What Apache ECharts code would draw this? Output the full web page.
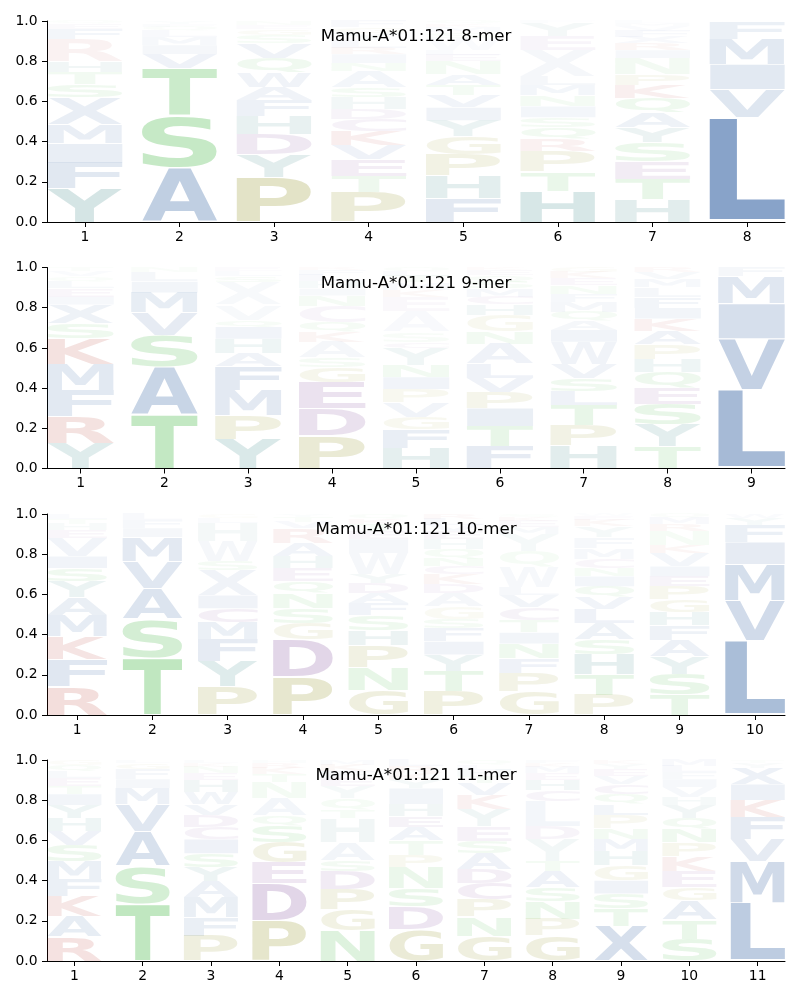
<!DOCTYPE html>
<html>
<head>
<meta charset="utf-8">
<script src="https://cdn.jsdelivr.net/npm/echarts@6/dist/echarts.min.js"></script>
<style>html,body{margin:0;padding:0;background:#fff}#chart{width:800px;height:1000px}</style>
</head>
<body>
<div id="chart"></div>
<script>
// ---------------- data ----------------
const titles = ['Mamu-A*01:121 8-mer', 'Mamu-A*01:121 9-mer', 'Mamu-A*01:121 10-mer', 'Mamu-A*01:121 11-mer'];
const yTicks = [0, 0.2, 0.4, 0.6, 0.8, 1.0];

// each position: stack of [letter, frequency] from bottom to top
const mer8 = [
  [['Y',0.165],['F',0.13],['I',0.095],['M',0.095],['X',0.135],['S',0.065],['T',0.06],['H',0.055],['R',0.11],['F',0.05],['E',0.025],['Q',0.015]],
  [['A',0.27],['S',0.26],['T',0.235],['V',0.07],['I',0.045],['M',0.04],['L',0.03],['Q',0.02],['F',0.015],['Y',0.015]],
  [['P',0.22],['Y',0.115],['D',0.10],['H',0.09],['F',0.08],['A',0.065],['W',0.075],['Q',0.07],['V',0.075],['S',0.04],['G',0.03],['E',0.02],['N',0.02]],
  [['P',0.15],['T',0.08],['E',0.08],['V',0.07],['K',0.07],['C',0.06],['D',0.05],['H',0.06],['S',0.05],['A',0.08],['N',0.04],['I',0.045],['R',0.03],['L',0.04],['Y',0.035],['G',0.03],['F',0.03]],
  [['F',0.12],['H',0.11],['P',0.105],['G',0.09],['Y',0.08],['I',0.065],['V',0.06],['T',0.05],['A',0.055],['N',0.065],['E',0.03],['L',0.025],['W',0.06],['S',0.03],['M',0.025],['K',0.015],['Q',0.015]],
  [['H',0.155],['T',0.095],['P',0.10],['R',0.06],['Q',0.06],['S',0.05],['I',0.055],['N',0.055],['M',0.05],['L',0.045],['X',0.13],['E',0.07],['Y',0.065],['F',0.01]],
  [['H',0.115],['T',0.10],['E',0.085],['S',0.095],['Y',0.075],['A',0.075],['Q',0.07],['K',0.065],['P',0.055],['N',0.08],['I',0.04],['R',0.035],['X',0.03],['F',0.03],['V',0.025],['M',0.015],['L',0.01]],
  [['S',0.008],['L',0.512],['V',0.14],['I',0.125],['M',0.125],['F',0.085],['W',0.005]]
];
const mer9 = [
  [['Y',0.125],['R',0.135],['F',0.13],['M',0.13],['K',0.125],['S',0.075],['X',0.095],['I',0.04],['E',0.04],['L',0.035],['Q',0.025],['V',0.025],['T',0.02]],
  [['T',0.27],['A',0.235],['S',0.16],['V',0.11],['M',0.10],['I',0.055],['L',0.045],['N',0.025]],
  [['Y',0.145],['P',0.12],['M',0.125],['F',0.12],['A',0.065],['H',0.07],['I',0.06],['Q',0.035],['V',0.075],['X',0.11],['S',0.03],['L',0.025],['E',0.02]],
  [['P',0.165],['D',0.135],['E',0.13],['G',0.075],['S',0.045],['A',0.08],['K',0.05],['Q',0.045],['C',0.085],['N',0.05],['I',0.035],['H',0.035],['L',0.03],['F',0.025],['R',0.015]],
  [['H',0.10],['F',0.095],['G',0.06],['V',0.075],['P',0.065],['I',0.06],['N',0.06],['Y',0.085],['C',0.03],['S',0.05],['A',0.10],['E',0.075],['K',0.035],['M',0.035],['T',0.03],['L',0.025],['Q',0.02]],
  [['F',0.11],['T',0.10],['I',0.09],['P',0.08],['V',0.07],['L',0.07],['A',0.10],['N',0.06],['G',0.085],['H',0.05],['C',0.04],['M',0.04],['S',0.035],['Q',0.03],['E',0.025],['K',0.015]],
  [['H',0.115],['P',0.10],['T',0.10],['L',0.07],['S',0.065],['V',0.07],['W',0.11],['I',0.06],['A',0.045],['Q',0.045],['M',0.05],['F',0.04],['N',0.04],['E',0.035],['K',0.03],['G',0.025]],
  [['T',0.11],['Y',0.11],['S',0.10],['E',0.08],['Q',0.08],['H',0.065],['P',0.075],['A',0.065],['K',0.06],['I',0.055],['F',0.055],['L',0.045],['M',0.04],['V',0.035],['R',0.025]],
  [['S',0.005],['L',0.385],['V',0.255],['I',0.175],['M',0.135],['F',0.045]]
];
const mer10 = [
  [['R',0.14],['F',0.135],['K',0.115],['M',0.105],['A',0.09],['Y',0.08],['S',0.065],['I',0.06],['V',0.09],['E',0.04],['H',0.03],['T',0.025],['L',0.025]],
  [['T',0.285],['S',0.195],['A',0.15],['V',0.135],['M',0.12],['I',0.045],['F',0.04],['L',0.03]],
  [['P',0.14],['Y',0.125],['F',0.11],['M',0.085],['C',0.07],['I',0.065],['X',0.125],['S',0.045],['W',0.10],['H',0.09],['L',0.025],['G',0.02]],
  [['P',0.19],['D',0.185],['G',0.08],['S',0.075],['N',0.075],['Q',0.06],['E',0.065],['H',0.06],['A',0.065],['R',0.075],['V',0.03],['T',0.025],['Y',0.015]],
  [['G',0.125],['N',0.11],['P',0.11],['H',0.075],['S',0.075],['F',0.06],['A',0.05],['D',0.05],['Y',0.045],['W',0.105],['I',0.07],['E',0.04],['T',0.035],['K',0.025],['Q',0.025]],
  [['P',0.12],['T',0.10],['Y',0.08],['I',0.065],['F',0.065],['S',0.045],['G',0.065],['A',0.065],['D',0.045],['K',0.05],['C',0.04],['N',0.04],['Q',0.045],['H',0.05],['E',0.04],['V',0.03],['L',0.03],['R',0.025]],
  [['G',0.115],['P',0.095],['F',0.07],['N',0.075],['I',0.055],['T',0.06],['C',0.065],['V',0.06],['L',0.04],['W',0.10],['Q',0.08],['Y',0.085],['M',0.035],['E',0.03],['K',0.02],['S',0.015]],
  [['P',0.10],['T',0.10],['H',0.10],['S',0.075],['A',0.08],['L',0.07],['V',0.06],['Q',0.055],['I',0.05],['N',0.04],['C',0.045],['M',0.055],['F',0.055],['Y',0.055],['K',0.03],['E',0.02],['W',0.01]],
  [['T',0.10],['S',0.105],['Y',0.085],['A',0.08],['F',0.075],['H',0.065],['G',0.065],['P',0.065],['E',0.05],['I',0.05],['V',0.065],['K',0.04],['N',0.07],['R',0.035],['M',0.03],['Q',0.02]],
  [['S',0.005],['L',0.365],['V',0.20],['M',0.18],['I',0.11],['F',0.085],['Y',0.035],['W',0.02]]
];
const mer11 = [
  [['R',0.12],['A',0.10],['K',0.10],['F',0.085],['M',0.09],['S',0.08],['V',0.07],['H',0.065],['Y',0.065],['I',0.055],['T',0.04],['E',0.04],['L',0.035],['Q',0.03],['G',0.025]],
  [['T',0.285],['S',0.19],['A',0.17],['V',0.135],['M',0.08],['I',0.045],['F',0.05],['G',0.03],['L',0.015]],
  [['P',0.125],['F',0.09],['M',0.10],['A',0.08],['Y',0.07],['S',0.07],['I',0.07],['C',0.06],['D',0.06],['V',0.055],['W',0.06],['H',0.06],['E',0.035],['N',0.03],['K',0.02],['L',0.015]],
  [['P',0.20],['D',0.185],['E',0.105],['G',0.10],['S',0.085],['Q',0.05],['A',0.085],['N',0.08],['T',0.04],['K',0.03],['R',0.025],['H',0.015]],
  [['N',0.15],['G',0.105],['P',0.10],['D',0.09],['S',0.055],['A',0.09],['H',0.12],['T',0.04],['Q',0.06],['Y',0.06],['E',0.04],['F',0.035],['K',0.03],['M',0.025]],
  [['G',0.155],['D',0.115],['S',0.09],['N',0.105],['P',0.06],['T',0.075],['A',0.065],['E',0.055],['H',0.06],['I',0.08],['Y',0.04],['K',0.035],['R',0.035],['L',0.03]],
  [['G',0.125],['N',0.095],['P',0.085],['C',0.08],['D',0.07],['A',0.08],['S',0.06],['E',0.075],['Y',0.085],['K',0.07],['V',0.06],['T',0.035],['H',0.03],['L',0.025],['Q',0.025]],
  [['G',0.125],['P',0.085],['N',0.085],['S',0.07],['A',0.08],['T',0.05],['Y',0.11],['D',0.065],['L',0.125],['C',0.055],['H',0.05],['E',0.035],['M',0.03],['K',0.02],['F',0.015]],
  [['X',0.175],['T',0.085],['S',0.075],['I',0.065],['G',0.075],['H',0.07],['M',0.06],['N',0.055],['P',0.065],['L',0.055],['Q',0.05],['C',0.05],['V',0.04],['E',0.035],['Y',0.025],['K',0.02]],
  [['S',0.11],['T',0.095],['A',0.095],['G',0.065],['E',0.08],['K',0.075],['P',0.07],['N',0.065],['Q',0.055],['Y',0.065],['H',0.04],['V',0.05],['I',0.04],['F',0.035],['L',0.03],['M',0.03]],
  [['S',0.005],['L',0.285],['M',0.205],['V',0.11],['F',0.11],['K',0.085],['I',0.08],['X',0.08],['Y',0.025],['T',0.015]]
];

// colour groups (base colours; opacity follows letter frequency)
const groupColors = {
  hydrophobic: [23, 76, 149],
  polar: [34, 170, 34],
  special: [128, 128, 0],
  acidic: [100, 30, 130],
  basic: [170, 20, 10],
  aromatic: [0, 100, 100]
};
const letterGroup = {
  A:'hydrophobic', F:'hydrophobic', I:'hydrophobic', L:'hydrophobic', M:'hydrophobic', V:'hydrophobic', W:'hydrophobic', X:'hydrophobic',
  S:'polar', T:'polar', N:'polar', Q:'polar',
  P:'special', G:'special',
  D:'acidic', E:'acidic', C:'acidic',
  K:'basic', R:'basic',
  H:'aromatic', Y:'aromatic'
};

// ---------------- layout ----------------
const panels = [mer8, mer9, mer10, mer11];
const gridTops = [21, 267.5, 514, 760];
const gridHeight = 201;
const gridLeft = 47;
const gridWidth = 738;
const HALF_W = 0.397;
const VPAD = 0.03;
const FONT = 'bold 100px "DejaVu Sans"';
const LABEL_FONT = '"DejaVu Sans", sans-serif';

const ctx = document.createElement('canvas').getContext('2d');
const metricsCache = {};
function glyph(ch) {
  if (!metricsCache[ch]) {
    ctx.font = FONT; ctx.textAlign = 'center'; ctx.textBaseline = 'middle';
    const m = ctx.measureText(ch);
    metricsCache[ch] = { l: m.actualBoundingBoxLeft, r: m.actualBoundingBoxRight, a: m.actualBoundingBoxAscent, d: m.actualBoundingBoxDescent };
  }
  return metricsCache[ch];
}
function titleMiddleOffset() {
  ctx.font = '16.67px "DejaVu Sans"'; ctx.textAlign = 'center'; ctx.textBaseline = 'middle';
  return ctx.measureText('M').actualBoundingBoxAscent;
}

// rows: [position, bottom, top, letter, frequency, opacity]; opacity fades upward the stack
function buildRows(panel) {
  const rows = [];
  panel.forEach((stack, i) => {
    let y = 0, op = 1;
    stack.forEach(([ch, f]) => {
      if (f >= 0.01) op = Math.min(op, f);
      rows.push([i + 1, y, y + f, ch, f, Math.min(op, f)]);
      y += f;
    });
  });
  return rows;
}

const grids = [], xAxes = [], yAxes = [], series = [], graphics = [];
const tOff = titleMiddleOffset();
panels.forEach((panel, pi) => {
  const n = panel.length;
  const positions = panel.map((_, i) => i + 1);
  const rows = buildRows(panel);
  grids.push({ left: gridLeft, top: gridTops[pi], width: gridWidth, height: gridHeight });
  xAxes.push({
    gridIndex: pi, type: 'value', min: 0.6, max: n + 0.4,
    axisLine: { show: true, onZero: false, lineStyle: { color: '#000', width: 1 } },
    axisTick: { show: true, length: 5, lineStyle: { color: '#000', width: 1 }, customValues: positions },
    axisLabel: { customValues: positions, color: '#000', fontSize: 13.9, fontFamily: LABEL_FONT, margin: 8, formatter: v => String(v) },
    splitLine: { show: false }
  });
  yAxes.push({
    gridIndex: pi, type: 'value', min: 0, max: 1, interval: 0.2,
    axisLine: { show: true, onZero: false, lineStyle: { color: '#000', width: 1 } },
    axisTick: { show: true, length: 5, lineStyle: { color: '#000', width: 1 } },
    axisLabel: { color: '#000', fontSize: 13.9, fontFamily: LABEL_FONT, margin: 9.5, formatter: v => v.toFixed(1) },
    splitLine: { show: false }
  });
  series.push({
    type: 'custom', xAxisIndex: pi, yAxisIndex: pi, silent: true, animation: false,
    data: rows.map(r => [r[0], r[1], r[2], r[4]]),
    renderItem: function (params, api) {
      const r = rows[params.dataIndex];
      const pos = r[0], y0 = r[1], y1 = r[2], ch = r[3], op = r[5];
      const pad = (y1 - y0) * VPAD / 2;
      const p1 = api.coord([pos - HALF_W, y1 - pad]);
      const p2 = api.coord([pos + HALF_W, y0 + pad]);
      const w = p2[0] - p1[0], h = p2[1] - p1[1];
      if (h < 0.2) return { type: 'group', children: [] };
      const g = glyph(ch);
      const sx = w / (g.l + g.r), sy = h / (g.a + g.d);
      const c = groupColors[letterGroup[ch]];
      return {
        type: 'text', x: p1[0] + sx * g.l, y: p1[1] + sy * g.a, scaleX: sx, scaleY: sy, silent: true,
        style: { text: ch, font: FONT, fill: 'rgba(' + c[0] + ',' + c[1] + ',' + c[2] + ',' + op + ')',
                 align: 'center', verticalAlign: 'middle', textAlign: 'center', textVerticalAlign: 'middle' }
      };
    }
  });
  graphics.push({
    type: 'text', x: gridLeft + gridWidth / 2, y: gridTops[pi] + 8 + tOff, silent: true, z: 100,
    style: { text: titles[pi], font: '16.67px "DejaVu Sans"', fill: '#000', align: 'center', verticalAlign: 'middle', textAlign: 'center', textVerticalAlign: 'middle' }
  });
});

const chart = echarts.init(document.getElementById('chart'), null, { renderer: 'canvas' });
chart.setOption({
  animation: false,
  backgroundColor: '#fff',
  grid: grids, xAxis: xAxes, yAxis: yAxes, series: series, graphic: graphics
});
</script>
</body>
</html>
